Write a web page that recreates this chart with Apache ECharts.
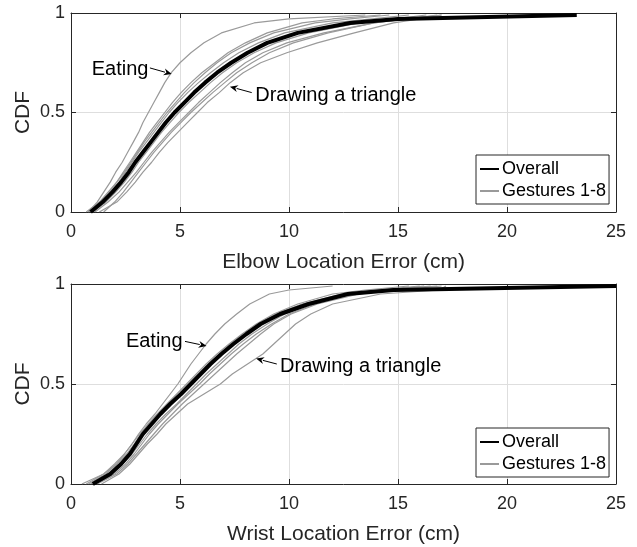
<!DOCTYPE html>
<html>
<head>
<meta charset="utf-8">
<script src="https://cdn.jsdelivr.net/npm/echarts@6/dist/echarts.min.js"></script>
<style>
  html, body { margin: 0; padding: 0; background: #fff; }
  #c { width: 637px; height: 547px; }
</style>
</head>
<body>
<div id="c"></div>
<script>
// Cumulative probability levels shared by every curve
const cdfLevels = [0, 0.05, 0.1, 0.15, 0.2, 0.25, 0.3, 0.35, 0.4, 0.45, 0.5,
                   0.55, 0.6, 0.65, 0.7, 0.75, 0.8, 0.85, 0.9, 0.95, 0.97, 0.99];

// Elbow location error (cm) reached at each level
const elbowOverall = [0.9, 1.45, 1.9, 2.3, 2.65, 2.95, 3.3, 3.65, 4.0, 4.35, 4.75,
                      5.2, 5.65, 6.15, 6.7, 7.35, 8.1, 9.0, 10.4, 12.8, 15.0, 23.2];
const elbowEating = [0.8, 1.2, 1.5, 1.8, 2.05, 2.35, 2.6, 2.85, 3.1, 3.3, 3.55,
                     3.8, 4.05, 4.3, 4.6, 5.0, 5.5, 6.1, 6.9, 8.4, 10.0, 13.5];
const elbowTriangle = [1.3, 2.1, 2.55, 2.95, 3.3, 3.7, 4.05, 4.45, 4.9, 5.35, 5.8,
                       6.25, 6.8, 7.3, 7.9, 8.7, 9.9, 11.3, 13.0, 14.8, 16.0, 17.0];
const elbowOthers = [
  [0.9, 1.4, 1.8, 2.2, 2.5, 2.8, 3.1, 3.45, 3.8, 4.15, 4.5, 4.9, 5.35, 5.85, 6.4, 7.0, 7.7, 8.6, 9.8, 12.0, 13.8, 15.5],
  [1.0, 1.6, 2.05, 2.45, 2.8, 3.1, 3.45, 3.8, 4.15, 4.55, 4.95, 5.4, 5.9, 6.4, 6.95, 7.6, 8.4, 9.4, 10.9, 13.2, 14.8, 16.3],
  [0.7, 1.3, 1.7, 2.1, 2.45, 2.75, 3.05, 3.35, 3.7, 4.05, 4.4, 4.8, 5.2, 5.65, 6.15, 6.7, 7.35, 8.2, 9.3, 11.2, 12.8, 14.6],
  [1.1, 1.7, 2.2, 2.6, 3.0, 3.35, 3.7, 4.1, 4.5, 4.95, 5.4, 5.85, 6.35, 6.85, 7.4, 8.0, 8.8, 9.9, 11.6, 13.9, 15.3, 16.8],
  [0.8, 1.35, 1.75, 2.1, 2.4, 2.7, 3.0, 3.3, 3.6, 3.95, 4.3, 4.65, 5.05, 5.5, 6.0, 6.6, 7.2, 8.0, 9.0, 10.6, 12.0, 14.2],
  [1.5, 2.0, 2.4, 2.75, 3.1, 3.45, 3.8, 4.2, 4.6, 5.05, 5.5, 6.0, 6.5, 7.05, 7.6, 8.3, 9.1, 10.2, 11.8, 13.9, 15.4, 17.0]
];

// Wrist location error (cm) reached at each level
const wristOverall = [1.0, 1.8, 2.3, 2.7, 3.0, 3.3, 3.7, 4.1, 4.55, 5.05, 5.5,
                      5.95, 6.4, 6.9, 7.45, 8.05, 8.7, 9.6, 10.9, 12.7, 14.8, 25.0];
const wristEating = [0.7, 1.5, 2.0, 2.45, 2.8, 3.1, 3.45, 3.85, 4.2, 4.55, 4.9,
                     5.2, 5.5, 5.85, 6.2, 6.6, 7.05, 7.6, 8.2, 9.1, 10.0, 12.0];
const wristTriangle = [1.4, 2.2, 2.7, 3.1, 3.5, 3.95, 4.35, 4.85, 5.35, 6.1, 6.85,
                       7.4, 8.1, 8.8, 9.3, 9.8, 10.3, 11.0, 12.0, 14.2, 16.9, 17.2];
const wristOthers = [
  [0.9, 1.7, 2.2, 2.6, 2.95, 3.3, 3.7, 4.15, 4.6, 5.05, 5.5, 5.95, 6.4, 6.9, 7.45, 8.0, 8.6, 9.4, 10.6, 12.4, 14.0, 16.0],
  [0.5, 1.5, 2.1, 2.55, 2.9, 3.2, 3.55, 3.95, 4.4, 4.85, 5.3, 5.75, 6.2, 6.7, 7.25, 7.85, 8.5, 9.3, 10.4, 12.0, 13.5, 15.5],
  [1.1, 2.0, 2.5, 2.9, 3.25, 3.6, 4.0, 4.45, 4.9, 5.4, 5.9, 6.35, 6.85, 7.35, 7.9, 8.5, 9.2, 10.0, 11.2, 13.0, 14.6, 16.5],
  [0.8, 1.6, 2.1, 2.45, 2.8, 3.15, 3.55, 4.0, 4.5, 4.95, 5.4, 5.85, 6.3, 6.8, 7.3, 7.9, 8.6, 9.5, 10.7, 12.6, 14.2, 16.8],
  [1.2, 2.1, 2.6, 3.0, 3.4, 3.8, 4.2, 4.65, 5.1, 5.6, 6.1, 6.6, 7.1, 7.6, 8.15, 8.7, 9.3, 10.1, 11.3, 13.2, 15.0, 17.0],
  [1.0, 1.8, 2.35, 2.8, 3.15, 3.5, 3.9, 4.35, 4.85, 5.3, 5.75, 6.2, 6.7, 7.2, 7.7, 8.3, 9.0, 9.8, 11.0, 12.8, 14.5, 16.2]
];

// Axis ranges and titles
const xRange = [0, 25], xStep = 5;
const yRange = [0, 1], yStep = 0.5;
const xTitles = ['Elbow Location Error (cm)', 'Wrist Location Error (cm)'];
const yTitle = 'CDF';
const legendNames = ['Overall', 'Gestures 1-8'];

// Callouts in data coordinates: label anchor, arrow tail, arrow head
const callouts = [
  { grid: 0, text: 'Eating', align: 'right', at: [3.55, 0.714], from: [3.62, 0.724], to: [4.62, 0.693] },
  { grid: 0, text: 'Drawing a triangle', align: 'left', at: [8.45, 0.588], from: [8.29, 0.600], to: [7.29, 0.630] },
  { grid: 1, text: 'Eating', align: 'right', at: [5.12, 0.713], from: [5.23, 0.713], to: [6.22, 0.690] },
  { grid: 1, text: 'Drawing a triangle', align: 'left', at: [9.59, 0.588], from: [9.44, 0.600], to: [8.49, 0.627] }
];

const FONT = "'Liberation Sans', Arial, Helvetica, sans-serif";
const AX = '#262626';
const GRID_LINE = '#dedede';
const GESTURE_COLOR = '#9a9a9a';

const pairs = xs => xs.map((x, i) => [x, cdfLevels[i]]);

const chart = echarts.init(document.getElementById('c'), null, { renderer: 'canvas' });

const grids = [
  { left: 71, top: 13, width: 545, height: 199 },
  { left: 71, top: 284, width: 545, height: 200 }
];

const tickStyle = { inside: true, length: 5, lineStyle: { color: AX, width: 1 } };
const lineStyle = { onZero: false, lineStyle: { color: AX, width: 1 } };

const xAxis = [], yAxis = [];
grids.forEach((g, gi) => {
  xAxis.push({
    type: 'value', gridIndex: gi, position: 'bottom',
    min: xRange[0], max: xRange[1], interval: xStep,
    name: xTitles[gi], nameLocation: 'middle', nameGap: 40, nameMoveOverlap: false,
    nameTextStyle: { fontSize: 21, color: AX, fontFamily: FONT },
    axisLine: lineStyle, axisTick: tickStyle,
    axisLabel: { fontSize: 18, color: AX, margin: 11, fontFamily: FONT },
    splitLine: { show: true, lineStyle: { color: GRID_LINE, width: 1 } }
  });
  xAxis.push({
    type: 'value', gridIndex: gi, position: 'top',
    min: xRange[0], max: xRange[1], interval: xStep,
    axisLine: lineStyle, axisTick: tickStyle,
    axisLabel: { show: false }, splitLine: { show: false }
  });
  yAxis.push({
    type: 'value', gridIndex: gi, position: 'left',
    min: yRange[0], max: yRange[1], interval: yStep,
    name: yTitle, nameLocation: 'middle', nameGap: 37, nameMoveOverlap: false,
    nameTextStyle: { fontSize: 21, color: AX, fontFamily: FONT },
    axisLine: lineStyle, axisTick: tickStyle,
    axisLabel: { fontSize: 18, color: AX, margin: 6, fontFamily: FONT },
    splitLine: { show: true, lineStyle: { color: GRID_LINE, width: 1 } }
  });
  yAxis.push({
    type: 'value', gridIndex: gi, position: 'right',
    min: yRange[0], max: yRange[1], interval: yStep,
    axisLine: lineStyle, axisTick: tickStyle,
    axisLabel: { show: false }, splitLine: { show: false }
  });
});

function curve(name, xs, gi, color, width) {
  return {
    type: 'line', name, data: pairs(xs),
    xAxisIndex: gi * 2, yAxisIndex: gi * 2,
    symbol: 'none', showSymbol: false, silent: true,
    lineStyle: { color, width, join: 'round' },
    itemStyle: { color },
    z: width > 2 ? 4 : 3
  };
}

const series = [];
[[elbowEating, elbowTriangle, ...elbowOthers, elbowOverall],
 [wristEating, wristTriangle, ...wristOthers, wristOverall]].forEach((set, gi) => {
  const overall = set[set.length - 1];
  set.slice(0, -1).forEach(xs => series.push(curve(legendNames[1], xs, gi, GESTURE_COLOR, 1.2)));
  series.push(curve(legendNames[0], overall, gi, '#000', 4));
});

const legendBox = (top) => ({
  left: 476, top, orient: 'vertical',
  data: legendNames,
  backgroundColor: '#fff', borderColor: AX, borderWidth: 1, borderRadius: 0,
  padding: [4, 3, 3, 3],
  itemWidth: 19, itemHeight: 14, itemGap: 2,
  itemStyle: { opacity: 0 },
  textStyle: { fontSize: 18, color: '#000', fontFamily: FONT, lineHeight: 20, padding: [0, 0, 0, -2] },
  selectedMode: false, z: 10
});

chart.setOption({
  animation: false,
  backgroundColor: '#fff',
  grid: grids,
  xAxis, yAxis, series,
  legend: [legendBox(155), legendBox(428)]
});

// Callout labels and arrows, placed through the axes' own scales
const graphics = [];
callouts.forEach(c => {
  const finder = { gridIndex: c.grid };
  const p = chart.convertToPixel(finder, c.at);
  const a = chart.convertToPixel(finder, c.from);
  const b = chart.convertToPixel(finder, c.to);
  const dx = b[0] - a[0], dy = b[1] - a[1];
  const len = Math.hypot(dx, dy);
  const ux = dx / len, uy = dy / len;
  const headLen = 8, headHalf = 3.5;
  const base = [b[0] - ux * headLen, b[1] - uy * headLen];
  graphics.push({
    type: 'text', silent: true, z: 20,
    style: { text: c.text, x: p[0], y: p[1], fill: '#000', font: '20px ' + FONT,
             align: c.align, verticalAlign: 'middle' }
  });
  graphics.push({
    type: 'line', silent: true, z: 20,
    shape: { x1: a[0], y1: a[1], x2: base[0] + ux, y2: base[1] + uy },
    style: { stroke: '#000', lineWidth: 1 }
  });
  graphics.push({
    type: 'polygon', silent: true, z: 20,
    shape: { points: [
      [b[0], b[1]],
      [base[0] - uy * headHalf, base[1] + ux * headHalf],
      [base[0] + ux * 2.5, base[1] + uy * 2.5],
      [base[0] + uy * headHalf, base[1] - ux * headHalf]
    ] },
    style: { fill: '#000' }
  });
});
chart.setOption({ graphic: graphics });
</script>
</body>
</html>
